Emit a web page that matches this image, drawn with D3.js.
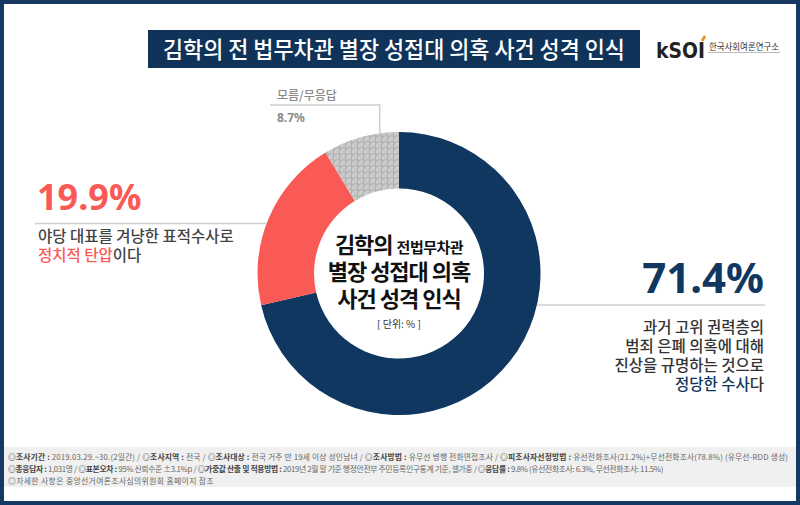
<!DOCTYPE html>
<html><head><meta charset="utf-8">
<script src="https://cdn.jsdelivr.net/npm/d3@7"></script>
<style>
html,body{margin:0;padding:0;background:#fff;}
svg{display:block;font-family:"Noto Sans CJK KR","Noto Sans",sans-serif;}
</style></head>
<body><svg id="c" width="800" height="505"></svg>
<script>
// ---- data ----
const categories = ["정당한 수사", "정치적 탄압", "모름/무응답"];
const values = [71.4, 19.9, 8.7];
const valueLabels = ["71.4%", "19.9%", "8.7%"];
const colors = ["#10375f", "#fa5a55", "#c9c9c9"];
const titleText = "김학의 전 법무차관 별장 성접대 의혹 사건 성격 인식";
const navyDesc = ["과거 고위 권력층의", "범죄 은폐 의혹에 대해", "진상을 규명하는 것으로"];
const redDesc = "야당 대표를 겨냥한 표적수사로";
const footerLines = [
  [["b","◎조사기간 : "],["n","2019.03.29.~30.(2일간) / "],["b","◎조사지역 : "],["n","전국 / "],["b","◎조사대상 : "],["n","전국 거주 만 19세 이상 성인남녀 / "],["b","◎조사방법 : "],["n","유무선 병행 전화면접조사 / "],["b","◎피조사자선정방법 : "],["n","유선전화조사(21.2%)+무선전화조사(78.8%) (유무선-RDD 생성)"]],
  [["b","◎총응답자 : "],["n","1,031명 / "],["b","◎표본오차 : "],["n","95% 신뢰수준 ±3.1%p / "],["b","◎가중값 산출 및 적용방법 : "],["n","2019년 2월 말 기준 행정안전부 주민등록인구통계 기준, 셀가중 / "],["b","◎응답률 : "],["n","9.8% (유선전화조사: 6.3%, 무선전화조사: 11.5%)"]],
  [["n","◎자세한 사항은 중앙선거여론조사심의위원회 홈페이지 참조"]]
];
const footerWidths = [780, 655, 206];

const svg = d3.select("#c");
const W = 800, H = 505;
const navy = "#10375f";

// defs: pattern for gray slice
const defs = svg.append("defs");
const pat = defs.append("pattern").attr("id","chk").attr("patternUnits","userSpaceOnUse").attr("width",6).attr("height",6);
pat.append("rect").attr("width",6).attr("height",6).attr("fill","#cfcfcf");
pat.append("rect").attr("x",0).attr("y",0).attr("width",3).attr("height",3).attr("fill","#bcbcbc");
pat.append("rect").attr("x",3).attr("y",3).attr("width",3).attr("height",3).attr("fill","#c6c6c6");
pat.append("rect").attr("x",0).attr("y",0).attr("width",1).attr("height",6).attr("fill","#b0b0b0");
pat.append("rect").attr("x",0).attr("y",0).attr("width",6).attr("height",1).attr("fill","#b0b0b0");

// background + frame
svg.append("rect").attr("x",2).attr("y",2).attr("width",W-4).attr("height",H-4).attr("fill","#fff").attr("stroke","#143a63").attr("stroke-width",4);

// title
svg.append("rect").attr("x",148).attr("y",30).attr("width",492).attr("height",38).attr("fill","#0f3359");
svg.append("text").attr("x",163).attr("y",58).attr("fill","#fff").attr("font-size",23).attr("font-weight",500)
  .attr("textLength",462).attr("lengthAdjust","spacingAndGlyphs").text(titleText);

// logo
const logo = svg.append("g");
logo.append("text").attr("x",656).attr("y",58).attr("font-family","DejaVu Sans").attr("font-weight","bold").attr("font-size",21)
  .attr("fill","#222").attr("textLength",49).attr("lengthAdjust","spacingAndGlyphs").text("kSOI");
logo.append("line").attr("x1",702).attr("y1",41).attr("x2",705).attr("y2",36).attr("stroke","#f08a1c").attr("stroke-width",2.5);
logo.append("text").attr("x",709).attr("y",50).attr("font-size",9).attr("fill","#333")
  .attr("textLength",70).attr("lengthAdjust","spacingAndGlyphs").text("한국사회여론연구소");
logo.append("line").attr("x1",708).attr("x2",780).attr("y1",52.5).attr("y2",52.5).attr("stroke","#bbb").attr("stroke-width",1);

// donut
const cx = 399, cy = 273.5, R = 141.5, r = 85;
const pie = d3.pie().sort(null).value(d => d)(values);
const arc = d3.arc().innerRadius(r).outerRadius(R);
const g = svg.append("g").attr("transform",`translate(${cx},${cy})`);
g.selectAll("path").data(pie).join("path")
  .attr("d", arc)
  .attr("fill", (d,i) => i===2 ? "url(#chk)" : colors[i]);

// leader lines: anchor angles (fraction within slice)
const anchorFrac = [0.40, 0.47, 0.75];
function edgePoint(i){
  const a = pie[i].startAngle + (pie[i].endAngle - pie[i].startAngle) * anchorFrac[i];
  return [cx + R*Math.sin(a), cy - R*Math.cos(a)];
}
const lineColor = "#cfcfcf";
const pN = edgePoint(0);
svg.append("line").attr("x1",pN[0]).attr("y1",pN[1]).attr("x2",765).attr("y2",pN[1]).attr("stroke",lineColor).attr("stroke-width",1.5);
const pR = edgePoint(1);
svg.append("line").attr("x1",35).attr("y1",pR[1]).attr("x2",pR[0]).attr("y2",pR[1]).attr("stroke",lineColor).attr("stroke-width",1.5);
const pG = edgePoint(2);
svg.append("polyline").attr("points",`270,105 ${pG[0]},105 ${pG[0]},${pG[1]}`).attr("fill","none").attr("stroke",lineColor).attr("stroke-width",1.5);

// labels
svg.append("text").attr("x",764).attr("y",293).attr("text-anchor","end").attr("fill",navy)
  .attr("font-size",42).attr("font-weight","bold").attr("font-family","Noto Sans").text(valueLabels[0]);
navyDesc.forEach((t,i)=>{
  svg.append("text").attr("x",764).attr("y",333+i*19).attr("text-anchor","end").attr("fill","#333")
    .attr("font-size",15.5).attr("font-weight",500).text(t);
});
const nl = svg.append("text").attr("x",764).attr("y",333+3*19).attr("text-anchor","end").attr("font-size",15.5).attr("font-weight",500);
nl.append("tspan").attr("fill",navy).text("정당한 수사");
nl.append("tspan").attr("fill","#333").text("다");

svg.append("text").attr("x",37).attr("y",210).attr("fill",colors[1])
  .attr("font-size",36).attr("font-weight","bold").attr("font-family","Noto Sans").text(valueLabels[1]);
svg.append("text").attr("x",38).attr("y",242).attr("fill","#444").attr("font-size",15.5).attr("font-weight",500).text(redDesc);
const rl = svg.append("text").attr("x",38).attr("y",261).attr("font-size",15.5).attr("font-weight",500);
rl.append("tspan").attr("fill",colors[1]).text("정치적 탄압");
rl.append("tspan").attr("fill","#444").text("이다");

svg.append("text").attr("x",277).attr("y",100).attr("fill","#8a8a8a").attr("font-size",12).attr("font-weight",500).text(categories[2]);
svg.append("text").attr("x",277).attr("y",122).attr("fill","#8a8a8a").attr("font-size",12).attr("font-weight","bold").attr("font-family","Noto Sans").text(valueLabels[2]);

// center text
const c1 = svg.append("text").attr("x",cx).attr("y",253).attr("text-anchor","middle").attr("fill","#111").attr("font-weight","bold");
c1.append("tspan").attr("font-size",22).attr("letter-spacing",-1).text("김학의 ");
c1.append("tspan").attr("font-size",15).attr("letter-spacing",-0.5).text("전법무차관");
svg.append("text").attr("x",cx).attr("y",280).attr("text-anchor","middle").attr("fill","#111").attr("font-weight","bold")
  .attr("font-size",22).attr("letter-spacing",-1).text("별장 성접대 의혹");
svg.append("text").attr("x",cx).attr("y",307).attr("text-anchor","middle").attr("fill","#111").attr("font-weight","bold")
  .attr("font-size",22).attr("letter-spacing",-1).text("사건 성격 인식");
svg.append("text").attr("x",cx).attr("y",328).attr("text-anchor","middle").attr("fill","#333")
  .attr("font-size",10).text("[ 단위: % ]");

// footer
svg.append("rect").attr("x",4).attr("y",447).attr("width",792).attr("height",40).attr("fill","#f0f0f0");
footerLines.forEach((ln,i)=>{
  const t = svg.append("text").attr("x",8).attr("y",459.5+i*12).attr("font-size",7.8);
  ln.forEach(([k,s])=>{
    t.append("tspan").attr("font-weight",k==="b"?"bold":"normal").attr("fill",k==="b"?"#444":"#666").text(s);
  });
  const L = t.node().getComputedTextLength();
  const n = ln.reduce((a,[,s])=>a+s.length,0);
  const ls = (footerWidths[i]-L)/n;
  t.selectAll("tspan").attr("letter-spacing", ls);
});
</script></body></html>
